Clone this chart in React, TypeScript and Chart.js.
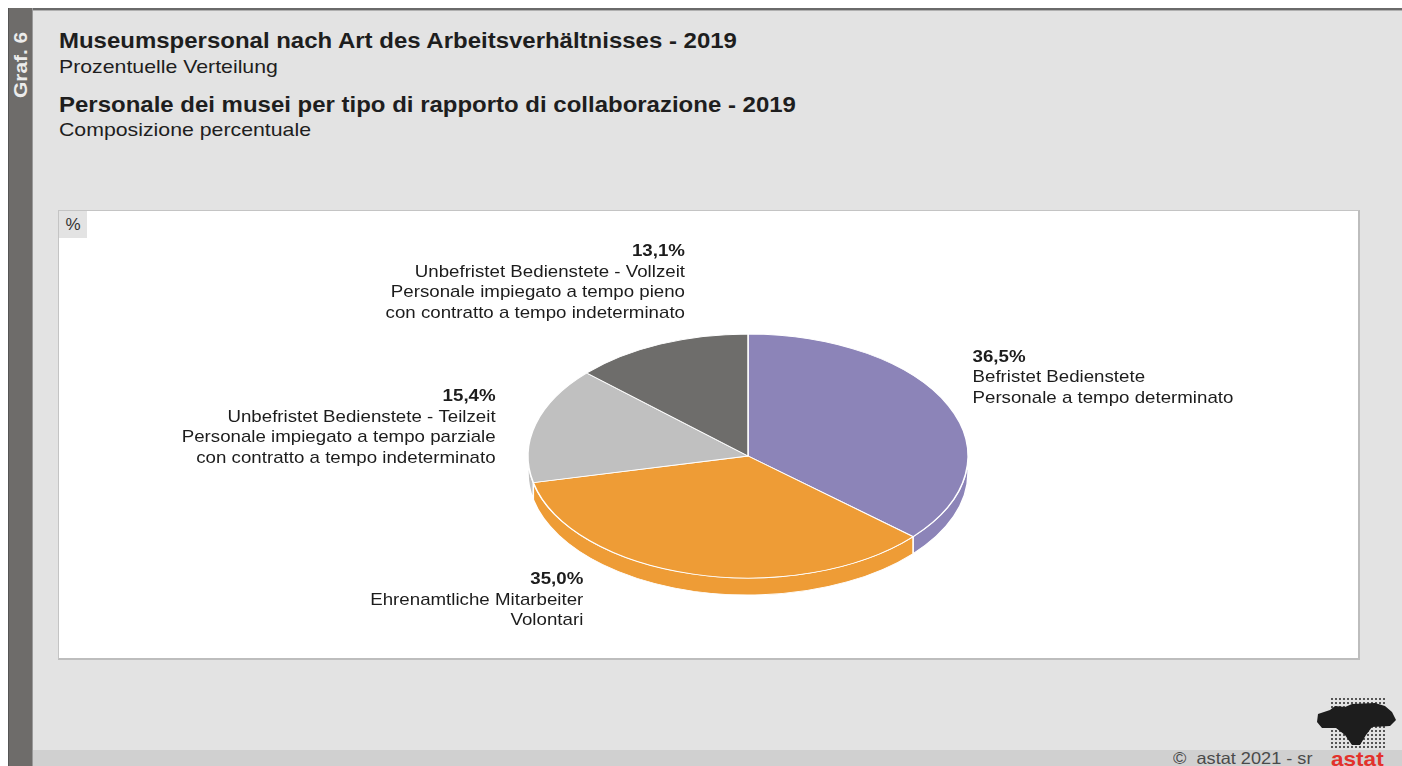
import React, { useEffect, useRef } from "react";
import { Chart, registerables } from "chart.js";

Chart.register(...registerables);

// ---------- data ----------
const categories: string[][] = [
  ["Befristet Bedienstete", "Personale a tempo determinato"],
  ["Ehrenamtliche Mitarbeiter", "Volontari"],
  [
    "Unbefristet Bedienstete - Teilzeit",
    "Personale impiegato a tempo parziale",
    "con contratto a tempo indeterminato",
  ],
  [
    "Unbefristet Bedienstete - Vollzeit",
    "Personale impiegato a tempo pieno",
    "con contratto a tempo indeterminato",
  ],
];
const values = [36.5, 35.0, 15.4, 13.1];
const colors = ["#8c84b8", "#ee9c36", "#c0c0c0", "#6e6d6b"];

// ---------- style ----------
const FONT = '"Liberation Sans", Arial, Helvetica, sans-serif';
const TILT = 122 / 220;
const DEPTH = 17;
const TEXT_SX = 1.1;
const LINE_H = 20.5;
const labelPlacement = [
  { dx: 24, dy: -44, align: "left" },
  { dx: -110, dy: 10, align: "right" },
  { dx: -40, dy: -23, align: "right" },
  { dx: 25, dy: -88, align: "right" },
];

const fmt = (v: number) => v.toFixed(1).replace(".", ",") + "%";

const pie3d = {
  id: "pie3d",
  beforeDatasetsDraw(chart: any) {
    const ctx = chart.ctx;
    const arcs = chart.getDatasetMeta(0).data;
    if (!arcs.length) return;
    const { x: cx, y: cy } = arcs[0];
    ctx.save();
    ctx.translate(cx, cy);
    ctx.scale(1, TILT);
    ctx.translate(-cx, -cy);
    const d = DEPTH / TILT;
    arcs.forEach((arc: any, i: number) => {
      const { startAngle, endAngle, outerRadius } = arc.getProps([
        "startAngle",
        "endAngle",
        "outerRadius",
      ]);
      const a0 = Math.max(startAngle, 0);
      const a1 = Math.min(endAngle, Math.PI);
      if (a1 <= a0) return;
      ctx.beginPath();
      ctx.arc(cx, cy + d, outerRadius, a0, a1);
      ctx.arc(cx, cy, outerRadius, a1, a0, true);
      ctx.closePath();
      ctx.fillStyle = colors[i];
      ctx.fill();
      ctx.lineWidth = 1.5;
      ctx.strokeStyle = "#ffffff";
      ctx.stroke();
    });
  },
  afterDatasetsDraw(chart: any) {
    const ctx = chart.ctx;
    ctx.restore();
    const arcs = chart.getDatasetMeta(0).data;
    ctx.save();
    ctx.fillStyle = "#1c1c1c";
    ctx.textBaseline = "alphabetic";
    arcs.forEach((arc: any, i: number) => {
      const { startAngle, endAngle, outerRadius, x, y } = arc.getProps([
        "startAngle",
        "endAngle",
        "outerRadius",
        "x",
        "y",
      ]);
      const mid = (startAngle + endAngle) / 2;
      const ex = x + Math.cos(mid) * outerRadius;
      const ey = y + Math.sin(mid) * outerRadius * TILT;
      const p = labelPlacement[i];
      const lines = [fmt(values[i]), ...categories[i]];
      lines.forEach((line, j) => {
        ctx.save();
        ctx.font = (j === 0 ? "bold " : "") + "17px " + FONT;
        ctx.textAlign = p.align;
        ctx.translate(ex + p.dx, ey + p.dy + j * LINE_H);
        ctx.scale(TEXT_SX, 1);
        ctx.fillText(line, 0, 0);
        ctx.restore();
      });
    });
    ctx.restore();
  },
};

function PieChart() {
  const ref = useRef<HTMLCanvasElement | null>(null);
  useEffect(() => {
    if (!ref.current) return;
    const chart = new Chart(ref.current, {
      type: "pie",
      data: {
        labels: categories.map((c) => c[0]),
        datasets: [
          {
            data: values,
            backgroundColor: colors,
            borderColor: "#ffffff",
            borderWidth: 1.5,
            radius: 220,
          } as any,
        ],
      },
      options: {
        responsive: false,
        animation: false,
        layout: { padding: { left: 79, top: 43, right: 0, bottom: 0 } },
        plugins: {
          legend: { display: false },
          tooltip: { enabled: false },
        },
      } as any,
      plugins: [pie3d],
    });
    return () => chart.destroy();
  }, []);
  return (
    <canvas
      ref={ref}
      width={1299}
      height={447}
      style={{ position: "absolute", left: 0, top: 0, width: 1299, height: 447 }}
    />
  );
}

const stretch = (sx: number, extra: React.CSSProperties = {}): React.CSSProperties => ({
  position: "absolute",
  whiteSpace: "nowrap",
  transform: `scaleX(${sx})`,
  transformOrigin: "0 0",
  lineHeight: 1,
  ...extra,
});

export default function App() {
  return (
    <div
      style={{
        position: "absolute",
        left: 0,
        top: 0,
        width: 1402,
        height: 766,
        overflow: "hidden",
        background: "#ffffff",
        fontFamily: FONT,
      }}
    >
      {/* frame background */}
      <div
        style={{
          position: "absolute",
          left: 8,
          top: 8,
          width: 1394,
          height: 758,
          background: "#e3e3e3",
          borderTop: "2px solid #6a6a6a",
          boxSizing: "border-box",
        }}
      />
      <div style={{ position: "absolute", left: 8, top: 10, width: 1394, height: 1, background: "#b0b0b0" }} />
      {/* bottom band */}
      <div style={{ position: "absolute", left: 33, top: 750, width: 1369, height: 16, background: "#d0d0d0" }} />
      {/* sidebar */}
      <div
        style={{
          position: "absolute",
          left: 8,
          top: 8,
          width: 25,
          height: 758,
          background: "#6e6c6a",
          borderLeft: "1px solid #555",
          borderRight: "1px solid #9a9a9a",
          boxSizing: "border-box",
        }}
      />
      <div
        style={{
          position: "absolute",
          left: 11,
          top: 98,
          transform: "rotate(-90deg)",
          transformOrigin: "0 0",
          color: "#ececec",
          fontWeight: "bold",
          fontSize: 19,
          lineHeight: "20px",
          whiteSpace: "nowrap",
        }}
      >
        <span style={{ display: "inline-block", transform: "scaleX(1.1)", transformOrigin: "0 0" }}>Graf. 6</span>
      </div>

      {/* titles */}
      <div style={stretch(1.09, { left: 59, top: 29.5, fontSize: 22, fontWeight: "bold", color: "#1e1e1e" })}>
        Museumspersonal nach Art des Arbeitsverhältnisses - 2019
      </div>
      <div style={stretch(1.12, { left: 59, top: 57, fontSize: 19, color: "#1e1e1e" })}>Prozentuelle Verteilung</div>
      <div style={stretch(1.09, { left: 59, top: 93.5, fontSize: 22, fontWeight: "bold", color: "#1e1e1e" })}>
        Personale dei musei per tipo di rapporto di collaborazione - 2019
      </div>
      <div style={stretch(1.12, { left: 59, top: 120, fontSize: 19, color: "#1e1e1e" })}>Composizione percentuale</div>

      {/* chart box */}
      <div
        style={{
          position: "absolute",
          left: 58,
          top: 210,
          width: 1302,
          height: 450,
          background: "#ffffff",
          borderTop: "1px solid #c4c4c4",
          borderLeft: "1px solid #c4c4c4",
          borderRight: "2px solid #bdbdbd",
          borderBottom: "2px solid #bdbdbd",
          boxSizing: "border-box",
        }}
      >
        <div
          style={{
            position: "absolute",
            left: 0,
            top: 0,
            width: 28,
            height: 27,
            background: "#e3e3e3",
            color: "#333",
            fontSize: 17,
            lineHeight: "27px",
            textAlign: "center",
          }}
        >
          %
        </div>
        <PieChart />
      </div>

      {/* footer */}
      <div style={stretch(1.1, { left: 1173, top: 750, fontSize: 16.5, color: "#4a4a4a" })}>©&nbsp; astat 2021 - sr</div>
      <div style={stretch(1.1, { left: 1331, top: 749, fontSize: 20.5, fontWeight: "bold", color: "#e3312b" })}>astat</div>
      {/* logo */}
      <div
        style={{
          position: "absolute",
          left: 1330,
          top: 697,
          width: 55,
          height: 52,
          backgroundImage: "radial-gradient(circle, #555 0.9px, transparent 1.3px)",
          backgroundSize: "4px 4px",
        }}
      />
      <div
        style={{
          position: "absolute",
          left: 1316,
          top: 702,
          width: 82,
          height: 44,
          background: "#1d1d1d",
          clipPath:
            "polygon(2px 12px, 14px 8px, 19px 4px, 29px 5px, 36px 2px, 59px 1px, 69px 4px, 76px 10px, 80px 18px, 74px 24px, 56px 25px, 50px 33px, 44px 43px, 36px 43px, 29px 33px, 20px 26px, 6px 26px, 1px 20px)",
        }}
      />
    </div>
  );
}
